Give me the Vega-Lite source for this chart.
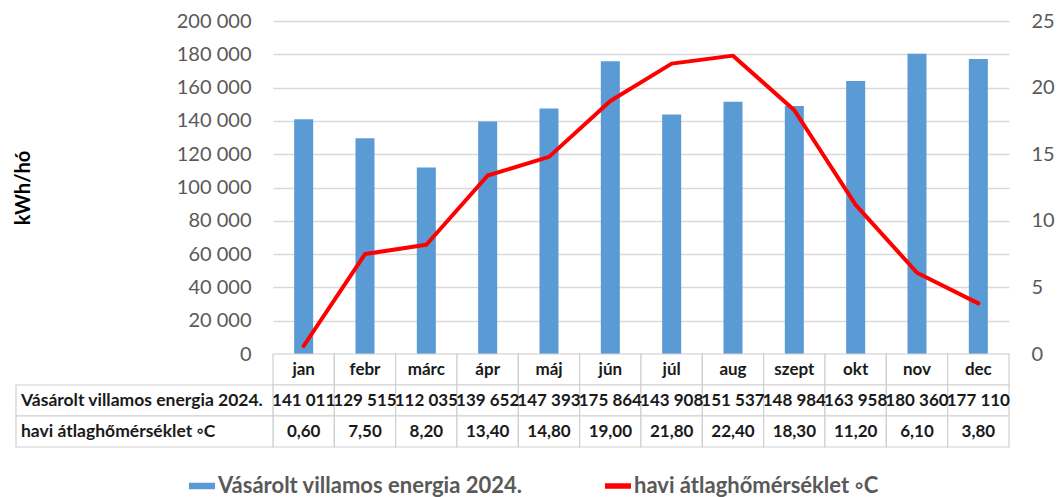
{
  "$schema": "https://vega.github.io/schema/vega-lite/v6.json",
  "padding": {"left": 13, "top": 11, "right": 5, "bottom": 0},
  "background": "white",
  "datasets": {
    "main": [
      {"month": "jan", "kwh": 141011, "temp": 0.6},
      {"month": "febr", "kwh": 129515, "temp": 7.5},
      {"month": "márc", "kwh": 112035, "temp": 8.2},
      {"month": "ápr", "kwh": 139652, "temp": 13.4},
      {"month": "máj", "kwh": 147393, "temp": 14.8},
      {"month": "jún", "kwh": 175864, "temp": 19.0},
      {"month": "júl", "kwh": 143908, "temp": 21.8},
      {"month": "aug", "kwh": 151537, "temp": 22.4},
      {"month": "szept", "kwh": 148984, "temp": 18.3},
      {"month": "okt", "kwh": 163958, "temp": 11.2},
      {"month": "nov", "kwh": 180360, "temp": 6.1},
      {"month": "dec", "kwh": 177110, "temp": 3.8}
    ],
    "rows": [
      {"row": "e", "label": "Vásárolt villamos energia 2024."},
      {"row": "t", "label": "havi átlaghőmérséklet ◦C"}
    ]
  },
  "config": {
    "locale": {"number": {"decimal": ",", "thousands": " ", "grouping": [3], "currency": ["", ""]}},
    "view": {"stroke": null},
    "font": "Lato"
  },
  "spacing": 0,
  "bounds": "flush",
  "resolve": {"scale": {"x": "independent"}},
  "vconcat": [
    {
      "width": 736,
      "height": 333,
      "data": {"name": "main"},
      "resolve": {"scale": {"y": "independent"}},
      "layer": [
        {
          "mark": {"type": "bar", "color": "#5b9bd5"},
          "encoding": {
            "x": {"field": "month", "type": "nominal", "sort": null,
                  "scale": {"type": "band", "domain": ["jan","febr","márc","ápr","máj","jún","júl","aug","szept","okt","nov","dec"], "paddingInner": 0.69, "paddingOuter": 0.345},
                  "axis": null},
            "y": {"field": "kwh", "type": "quantitative",
                  "scale": {"domain": [0, 200000]},
                  "axis": {"values": [0,20000,40000,60000,80000,100000,120000,140000,160000,180000,200000],
                           "format": ",d", "title": "kWh/hó", "titleFont": "Lato", "titleFontSize": 20,
                           "titleFontWeight": "bold", "titleColor": "#000000", "titlePadding": 143,
                           "labelFont": "Lato", "labelFontSize": 20, "labelColor": "#595959", "labelPadding": 22,
                           "ticks": false, "domain": false, "grid": true, "gridColor": "#d9d9d9", "gridWidth": 1.3}},
            "color": {"datum": "Vásárolt villamos energia 2024.",
                      "scale": {"domain": ["Vásárolt villamos energia 2024.", "havi átlaghőmérséklet ◦C"], "range": ["#5b9bd5", "#ff0000"]},
                      "legend": {"orient": "none", "legendX": -82, "legendY": 454, "direction": "horizontal", "title": null,
                                 "labelFont": "Lato", "labelFontSize": 22, "labelFontWeight": "bold", "labelColor": "#595959",
                                 "labelLimit": 0, "symbolSize": 2704, "columnPadding": 71, "labelOffset": 5,
                                 "encode": {"symbols": {"update": {
                                   "shape": {"signal": "datum.value === 'havi átlaghőmérséklet ◦C' ? 'M-0.5,0H0.5' : 'M-0.5,-0.125H0.5V0.125H-0.5Z'"},
                                   "fill": {"signal": "datum.value === 'havi átlaghőmérséklet ◦C' ? 'transparent' : '#5b9bd5'"},
                                   "stroke": {"signal": "datum.value === 'havi átlaghőmérséklet ◦C' ? '#ff0000' : 'transparent'"},
                                   "strokeWidth": {"signal": "datum.value === 'havi átlaghőmérséklet ◦C' ? 5.5 : 0"},
                                   "opacity": {"value": 1}}}}}}
          }
        },
        {
          "mark": {"type": "line", "strokeWidth": 4, "strokeJoin": "round", "strokeCap": "round"},
          "encoding": {
            "x": {"field": "month", "type": "nominal", "sort": null, "axis": null},
            "y": {"field": "temp", "type": "quantitative",
                  "scale": {"domain": [0, 25]},
                  "axis": {"orient": "right", "values": [0,5,10,15,20,25], "title": null,
                           "labelFont": "Lato", "labelFontSize": 20, "labelColor": "#595959", "labelPadding": 22,
                           "ticks": false, "domain": false, "grid": false}},
            "color": {"datum": "havi átlaghőmérséklet ◦C"}
          }
        }
      ]
    },
    {
      "width": 736,
      "height": 93,
      "resolve": {"scale": {"x": "independent"}},
      "layer": [
        {
          "data": {"name": "main"},
          "layer": [
            {"mark": {"type": "rect", "fill": "white", "stroke": "#d0d0d0", "strokeWidth": 1.2},
             "encoding": {
               "x": {"field": "month", "type": "nominal", "sort": null, "scale": {"type": "band", "domain": ["jan","febr","márc","ápr","máj","jún","júl","aug","szept","okt","nov","dec"], "paddingInner": 0, "paddingOuter": 0}, "axis": null},
               "y": {"datum": "m", "type": "nominal", "scale": {"type": "band", "domain": ["m","e","t"], "paddingInner": 0, "paddingOuter": 0}, "axis": null}}},
            {"mark": {"type": "rect", "fill": "white", "stroke": "#d0d0d0", "strokeWidth": 1.2},
             "encoding": {
               "x": {"field": "month", "type": "nominal", "sort": null, "axis": null},
               "y": {"datum": "e", "type": "nominal", "axis": null}}},
            {"mark": {"type": "rect", "fill": "white", "stroke": "#d0d0d0", "strokeWidth": 1.2},
             "encoding": {
               "x": {"field": "month", "type": "nominal", "sort": null, "axis": null},
               "y": {"datum": "t", "type": "nominal", "axis": null}}},
            {"mark": {"type": "text", "fontWeight": "bold", "fontSize": 17, "color": "#1a1a1a", "font": "Lato"},
             "encoding": {
               "x": {"field": "month", "type": "nominal", "sort": null, "axis": null},
               "y": {"datum": "m", "type": "nominal", "axis": null},
               "text": {"field": "month", "type": "nominal"}}},
            {"mark": {"type": "text", "fontWeight": "bold", "fontSize": 17, "color": "#1a1a1a", "font": "Lato"},
             "encoding": {
               "x": {"field": "month", "type": "nominal", "sort": null, "axis": null},
               "y": {"datum": "e", "type": "nominal", "axis": null},
               "text": {"field": "kwh", "type": "quantitative", "format": ",d"}}},
            {"mark": {"type": "text", "fontWeight": "bold", "fontSize": 17, "color": "#1a1a1a", "font": "Lato"},
             "encoding": {
               "x": {"field": "month", "type": "nominal", "sort": null, "axis": null},
               "y": {"datum": "t", "type": "nominal", "axis": null},
               "text": {"field": "temp", "type": "quantitative", "format": ".2f"}}}
          ]
        },
        {
          "data": {"name": "rows"},
          "layer": [
            {"mark": {"type": "rect", "fill": "white", "stroke": "#d0d0d0", "strokeWidth": 1.2},
             "encoding": {
               "x": {"datum": "lbl", "type": "nominal", "scale": {"type": "band", "domain": ["lbl"], "range": [-257, 0], "paddingInner": 0, "paddingOuter": 0}, "axis": null},
               "y": {"field": "row", "type": "nominal", "axis": null}}},
            {"mark": {"type": "text", "align": "left", "dx": 5, "fontWeight": "bold", "fontSize": 17.5, "color": "#1a1a1a", "font": "Lato"},
             "encoding": {
               "x": {"datum": "lbl", "type": "nominal", "bandPosition": 0, "axis": null},
               "y": {"field": "row", "type": "nominal", "axis": null},
               "text": {"field": "label", "type": "nominal"}}}
          ]
        }
      ]
    }
  ]
}
